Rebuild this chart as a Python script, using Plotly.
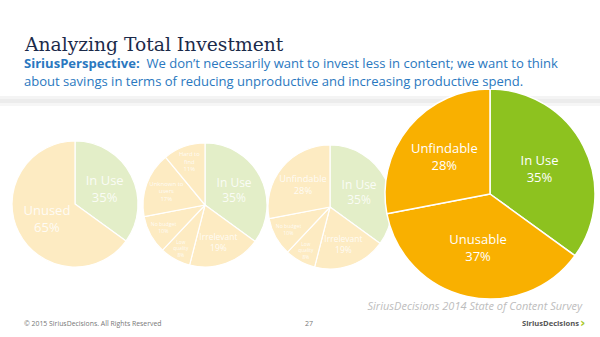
import plotly.graph_objects as go

# ---- data ----
pie1_labels = ["In Use", "Unused"]
pie1_values = [35, 65]

pie2_labels = ["In Use", "Irrelevant", "Low<br>quality", "No budget", "Unknown to<br>users", "Hard to<br>find"]
pie2_values = [35, 19, 8, 10, 17, 11]

pie3_labels = ["In Use", "Irrelevant", "Low<br>quality", "No budget", "Unfindable"]
pie3_values = [35, 19, 8, 10, 28]

pie4_labels = ["In Use", "Unusable", "Unfindable"]
pie4_values = [35, 37, 28]

title_text = "Analyzing Total Investment"
sub_bold = "SiriusPerspective:"
sub_line1 = "We don\u2019t necessarily want to invest less in content; we want to think"
sub_line2 = "about savings in terms of reducing unproductive and increasing productive spend."
source_text = "SiriusDecisions 2014 State of Content Survey"
copyright_text = "\u00a9 2015 SiriusDecisions. All Rights Reserved"
page_text = "27"
logo_text = "SiriusDecisions"

W, H = 600, 337
LG = "#E3EEC8"   # light green
LY = "#FDEBC2"   # light yellow
G = "#8DC21F"
O = "#F9B000"
FAINT = "rgba(255,255,255,0.85)"

def dom(cx, cy, r):
    return dict(x=[(cx - r) / W, (cx + r) / W], y=[1 - (cy + r) / H, 1 - (cy - r) / H])

fig = go.Figure()

# hidden pixel axes for text under the pies
fig.add_trace(go.Scatter(
    x=[582], y=[307], mode="text", text=[source_text], textposition="middle left",
    textfont=dict(family="Open Sans", size=11, color="#BDBDBD", style="italic"),
    hoverinfo="skip", showlegend=False))

common = dict(sort=False, direction="clockwise", rotation=0, textinfo="text",
              textposition="inside", insidetextorientation="horizontal",
              hoverinfo="skip", showlegend=False)

def txt(labels, values):
    return [f"{l}<br>{v}%" for l, v in zip(labels, values)]

fig.add_trace(go.Pie(labels=pie1_labels, values=pie1_values, text=txt(pie1_labels, pie1_values),
                     domain=dom(75, 204, 63),
                     marker=dict(colors=[LG, LY], line=dict(color="white", width=1.2)),
                     insidetextfont=dict(family="Open Sans", size=13, color=FAINT), **common))
fig.add_trace(go.Pie(labels=pie2_labels, values=pie2_values, text=txt(pie2_labels, pie2_values),
                     domain=dom(205, 205, 62),
                     marker=dict(colors=[LG] + [LY] * 5, line=dict(color="white", width=1.2)),
                     insidetextfont=dict(family="Open Sans", size=12, color=FAINT), **common))
fig.add_trace(go.Pie(labels=pie3_labels, values=pie3_values, text=txt(pie3_labels, pie3_values),
                     domain=dom(330, 207, 62),
                     marker=dict(colors=[LG] + [LY] * 4, line=dict(color="white", width=1.2)),
                     insidetextfont=dict(family="Open Sans", size=12, color=FAINT), **common))
fig.add_trace(go.Pie(labels=pie4_labels, values=pie4_values, text=txt(pie4_labels, pie4_values),
                     domain=dom(490, 194, 105),
                     marker=dict(colors=[G, O, O], line=dict(color="white", width=1.5)),
                     insidetextfont=dict(family="Open Sans", size=13, color="white"), **common))

ann = [
    dict(x=22, y=44, text=title_text, font=dict(family="DejaVu Serif", size=18.7, color="#1B2A4A")),
    dict(x=22, y=63, text=f"<b>{sub_bold}</b>  {sub_line1}",
         font=dict(family="Open Sans", size=13.05, color="#2A78C0")),
    dict(x=22, y=81, text=sub_line2, font=dict(family="Open Sans", size=13.05, color="#2A78C0")),
    dict(x=22, y=323, text=copyright_text,
         font=dict(family="Open Sans", size=6.9, color="#777777")),
    dict(x=303, y=323, text=page_text,
         font=dict(family="Open Sans", size=7, color="#777777")),
    dict(x=520, y=323, text=f"<b>{logo_text}</b>",
         font=dict(family="Open Sans", size=7.6, color="#555555")),
    dict(x=578, y=322, text="<b>\u203a</b>", font=dict(family="DejaVu Sans", size=13, color="#A8C82A")),
]
for a in ann:
    a.update(xref="x", yref="y", showarrow=False, xanchor="left", yanchor="middle")

fig.update_layout(
    width=W, height=H, margin=dict(l=0, r=0, t=0, b=0),
    paper_bgcolor="white", plot_bgcolor="white",
    xaxis=dict(range=[0, W], visible=False, fixedrange=True, domain=[0, 1]),
    yaxis=dict(range=[H, 0], visible=False, fixedrange=True, domain=[0, 1]),
    annotations=ann,
    shapes=[
        dict(type="rect", xref="x", yref="y", x0=0, x1=W, y0=96, y1=99,
             fillcolor="#F4F4F4", line=dict(width=0), layer="below"),
        dict(type="rect", xref="x", yref="y", x0=0, x1=W, y0=99, y1=103,
             fillcolor="#ECECEC", line=dict(width=0), layer="below"),
        dict(type="rect", xref="x", yref="y", x0=0, x1=W, y0=103, y1=106,
             fillcolor="#F6F6F6", line=dict(width=0), layer="below"),
    ],
)

fig.write_html("out.html")
